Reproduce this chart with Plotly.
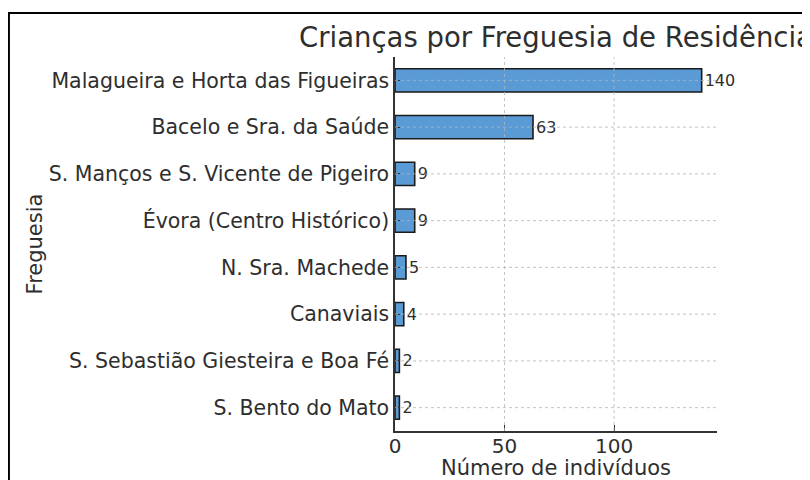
import plotly.graph_objects as go

# data, bottom to top as drawn
freguesias = [
    "S. Bento do Mato",
    "S. Sebastião Giesteira e Boa Fé",
    "Canaviais",
    "N. Sra. Machede",
    "Évora (Centro Histórico)",
    "S. Manços e S. Vicente de Pigeiro",
    "Bacelo e Sra. da Saúde",
    "Malagueira e Horta das Figueiras",
]
contagens = [2, 2, 4, 5, 9, 9, 63, 140]
x_ticks = [0, 50, 100]

FONT = "DejaVu Sans"
TXT = "#2e2e2e"

fig = go.Figure()
fig.add_trace(go.Bar(
    y=freguesias,
    x=contagens,
    orientation="h",
    width=0.5,
    marker=dict(color="#5b9bd5", line=dict(color="#1a1a1a", width=1.6)),
    text=[str(v) for v in contagens],
    textposition="outside",
    textfont=dict(family=FONT, size=16, color=TXT),
    cliponaxis=False,
))

# dashed grid drawn over the bars, like the original
grid = dict(color="rgba(180,180,180,0.8)", width=1, dash="3px,3px")
for f in freguesias:
    fig.add_shape(type="line", xref="paper", yref="y", x0=0, x1=1,
                  y0=f, y1=f, line=grid, layer="above")
for t in x_ticks[1:]:
    fig.add_shape(type="line", xref="x", yref="paper", x0=t, x1=t,
                  y0=0, y1=1, line=grid, layer="above")

# outer frame of the picture
fig.add_shape(type="rect", xref="paper", yref="paper",
              x0=-1.199, x1=1.6, y0=-0.5, y1=1.1176,
              line=dict(color="black", width=2), layer="above")

# page body has an 8px margin, so the figure is a bit smaller than the window
fig.update_layout(
    width=802, height=472,
    margin=dict(l=387, r=93, t=49, b=49, autoexpand=False),
    paper_bgcolor="white", plot_bgcolor="white",
    showlegend=False,
    font=dict(family=FONT, size=20, color=TXT),
    title=dict(text="Crianças por Freguesia de Residência",
               x=0.5, xref="paper", xanchor="center",
               y=1.0, yref="paper", yanchor="bottom",
               pad=dict(b=10), automargin=False,
               font=dict(family=FONT, size=27.5, color=TXT)),
    xaxis=dict(
        range=[0, 147], tickvals=x_ticks, showgrid=False, zeroline=False,
        showline=True, linecolor="#333", linewidth=1.5,
        ticks="inside", ticklen=6, tickcolor="#333",
        tickfont=dict(size=20), automargin=False, ticklabelstandoff=-4,
        title=dict(text="Número de indivíduos", standoff=20,
                   font=dict(size=21)),
    ),
    yaxis=dict(
        range=[-0.5, 7.5], showgrid=False, zeroline=False,
        showline=True, linecolor="#333", linewidth=1.5,
        ticks="inside", ticklen=5, tickcolor="#333",
        tickfont=dict(size=20.5), automargin=False,
        title=dict(text="Freguesia", standoff=0, font=dict(size=21)),
    ),
)

fig.write_html("out.html")
